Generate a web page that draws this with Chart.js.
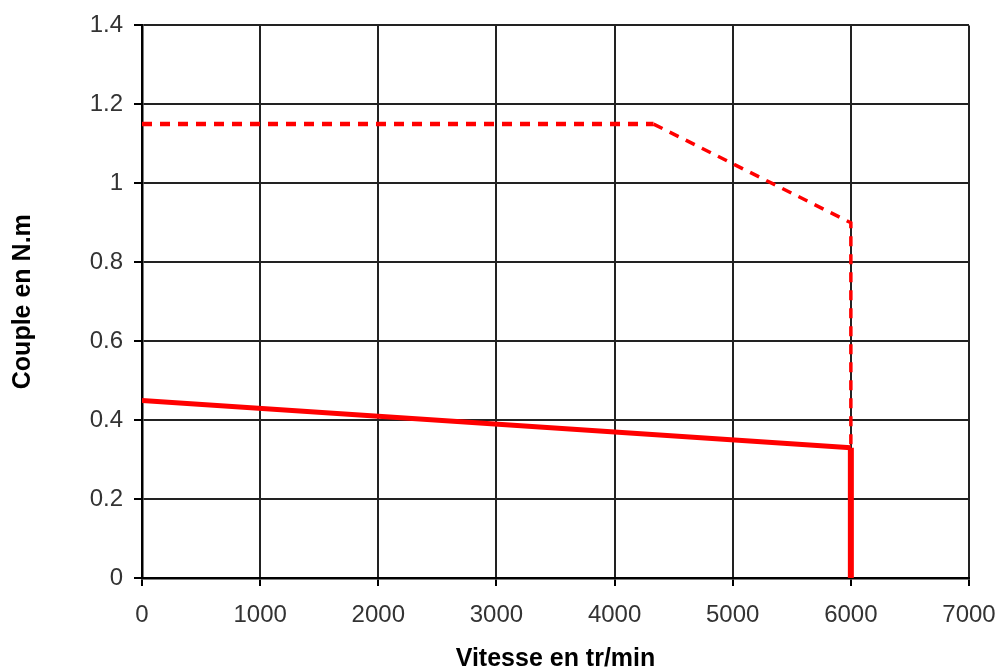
<!DOCTYPE html>
<html>
<head>
<meta charset="utf-8">
<script src="https://cdn.jsdelivr.net/npm/chart.js@4/dist/chart.umd.min.js"></script>
<style>
  html, body { margin: 0; padding: 0; background: #fff; }
  #wrap { width: 999px; height: 672px; }
</style>
</head>
<body>
<div id="wrap"><canvas id="couple" width="999" height="672"></canvas></div>
<script>
/* Couple / vitesse : courbes moteur */
const vitesseNominal = [0, 6000, 6000];
const coupleNominal  = [0.45, 0.33, 0];

const vitesseCrete = [0, 4330, 6000, 6000];
const coupleCrete  = [1.15, 1.15, 0.9, 0];

const xTicks = [0, 1000, 2000, 3000, 4000, 5000, 6000, 7000];
const yTicks = [0, 0.2, 0.4, 0.6, 0.8, 1, 1.2, 1.4];

const RED = '#ff0000';
const FONT = "'Liberation Sans', Arial, sans-serif";

function toPoints(xs, ys) {
  return xs.map((x, i) => ({ x, y: ys[i] }));
}

new Chart(document.getElementById('couple'), {
  type: 'scatter',
  data: {
    datasets: [
      {
        data: toPoints(vitesseCrete, coupleCrete),
        showLine: true, borderColor: RED, pointRadius: 0,
        borderDash: [10, 8], borderCapStyle: 'butt',
        segment: { borderWidth: c => c.p0DataIndex === 0 ? 4.5 : 3.5 }
      },
      {
        data: toPoints(vitesseNominal, coupleNominal),
        showLine: true, borderColor: RED, pointRadius: 0,
        borderJoinStyle: 'miter',
        segment: { borderWidth: c => c.p0DataIndex === 0 ? 5 : 6 }
      }
    ]
  },
  options: {
    responsive: false, animation: false,
    layout: { padding: { left: 0, right: 30, top: 24, bottom: 0 } },
    plugins: { legend: { display: false }, tooltip: { enabled: false } },
    scales: {
      x: {
        type: 'linear', min: xTicks[0], max: xTicks[xTicks.length - 1],
        afterBuildTicks: s => { s.ticks = xTicks.map(v => ({ value: v })); },
        afterFit: s => { s.height = 94; s.paddingLeft = 0; s.paddingRight = 0; },
        grid: { color: '#222', lineWidth: 2, tickLength: 8, tickColor: '#000', tickWidth: 2 },
        border: { color: '#000', width: 2.5 },
        ticks: {
          color: '#333', font: { family: FONT, size: 24 }, padding: 15, maxRotation: 0,
          callback: v => String(v)
        },
        title: {
          display: true, text: 'Vitesse en tr/min', color: '#000',
          font: { family: FONT, size: 25, weight: 'bold', lineHeight: 1 },
          padding: { top: 0, bottom: 0 }
        }
      },
      y: {
        type: 'linear', min: yTicks[0], max: yTicks[yTicks.length - 1],
        afterBuildTicks: s => { s.ticks = yTicks.map(v => ({ value: v })); },
        afterFit: s => { s.width = 142; },
        grid: { color: '#222', lineWidth: 2, tickLength: 8, tickColor: '#000', tickWidth: 2 },
        border: { color: '#000', width: 2.5 },
        ticks: {
          color: '#333', font: { family: FONT, size: 24 }, padding: 11,
          callback: v => String(+v.toFixed(1))
        },
        title: {
          display: true, text: 'Couple en N.m', color: '#000',
          font: { family: FONT, size: 25, weight: 'bold', lineHeight: 1.2 },
          padding: { top: 8, bottom: 0 }
        }
      }
    }
  }
});
</script>
</body>
</html>
